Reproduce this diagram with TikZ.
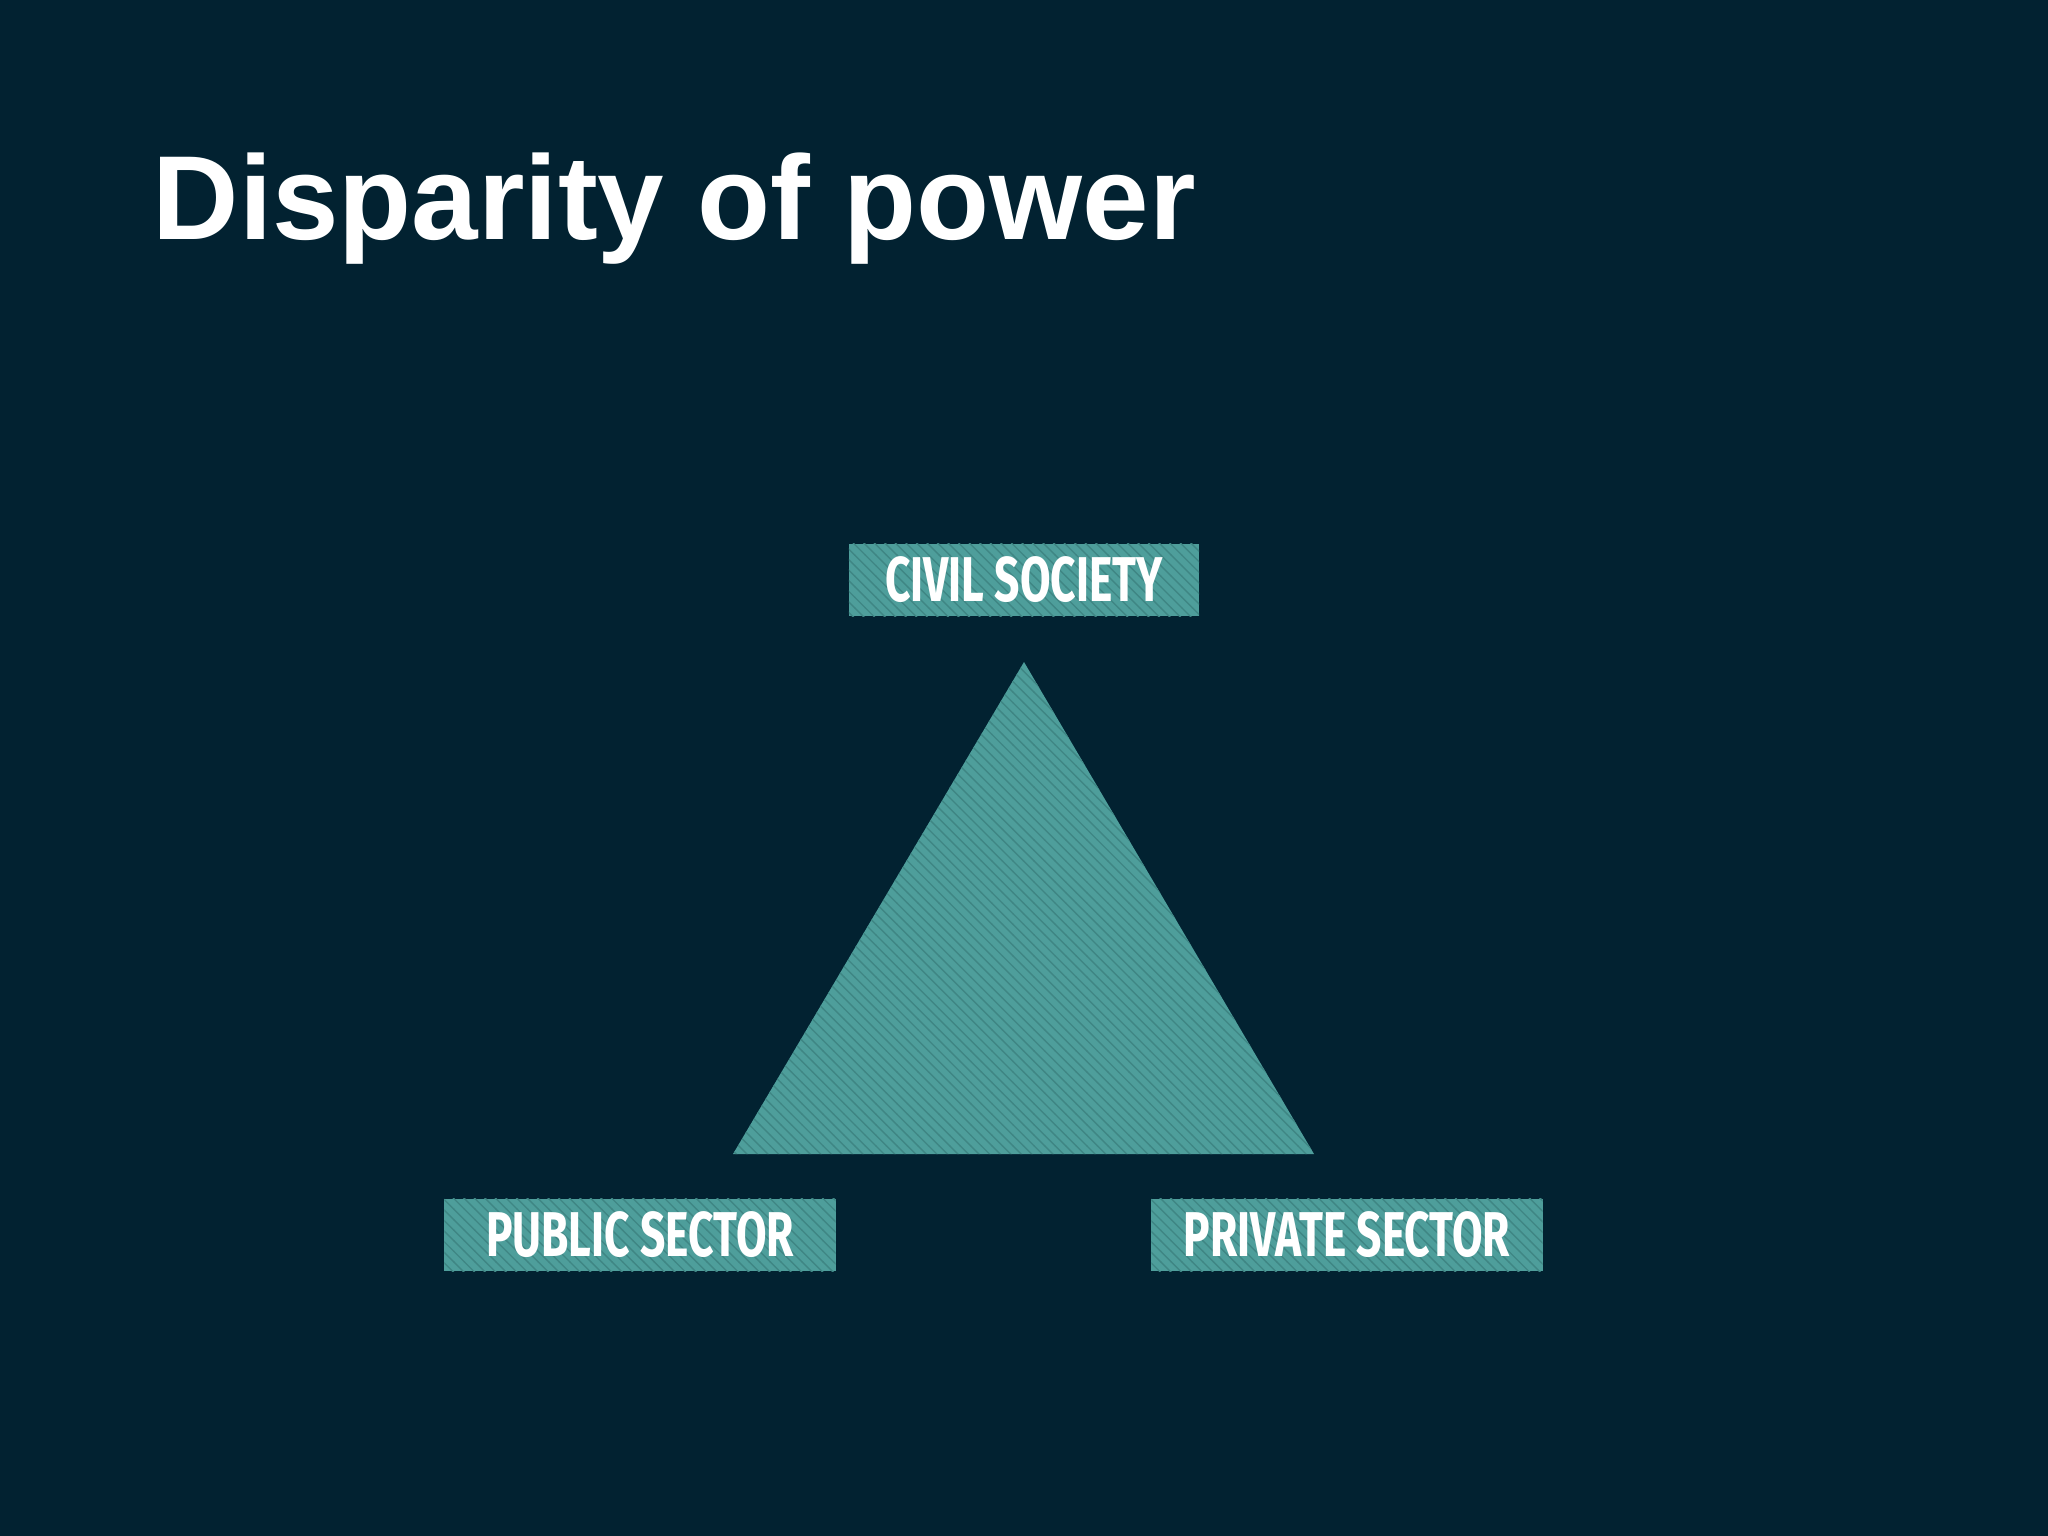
\documentclass[tikz,border=0pt]{standalone}
\usepackage{fontspec}
\setmainfont{Liberation Sans}
\newfontfamily\labfont{Fira Sans}
\usetikzlibrary{patterns}
\definecolor{bg}{HTML}{022231}
\definecolor{teal}{HTML}{4E9E9B}
\definecolor{tealdk}{HTML}{3F8684}
\tikzset{
  hatch/.style={fill=teal, postaction={pattern=north west lines, pattern color=tealdk}},
  lab/.style={hatch, minimum width=#1, minimum height=0.72cm, inner sep=0pt, text=white,
    font=\labfont\bfseries\fontsize{18}{20}\selectfont}
}
\begin{document}
\begin{tikzpicture}[x=0.01cm,y=-0.01cm]
\useasboundingbox (0,0) rectangle (2048,1536);
\fill[bg] (0,0) rectangle (2048,1536);
\node[anchor=base west, text=white, inner sep=0pt, font=\bfseries\fontsize{34}{40}\selectfont] (title) at (152,239) {Disparity of power};
\node[lab=3.5cm] (civil) at (1024,580) {\scalebox{0.7}[1]{CIVIL SOCIETY}};
\node[lab=3.91cm] (public) at (640,1235) {\scalebox{0.7}[1]{PUBLIC SECTOR}};
\node[lab=3.91cm] (private) at (1347,1235) {\scalebox{0.7}[1]{PRIVATE SECTOR}};
\coordinate (apex) at (1024,662);
\coordinate (bl) at (733,1154);
\coordinate (br) at (1314,1154);
\path[hatch] (apex) -- (br) -- (bl) -- cycle;
\end{tikzpicture}
\end{document}
